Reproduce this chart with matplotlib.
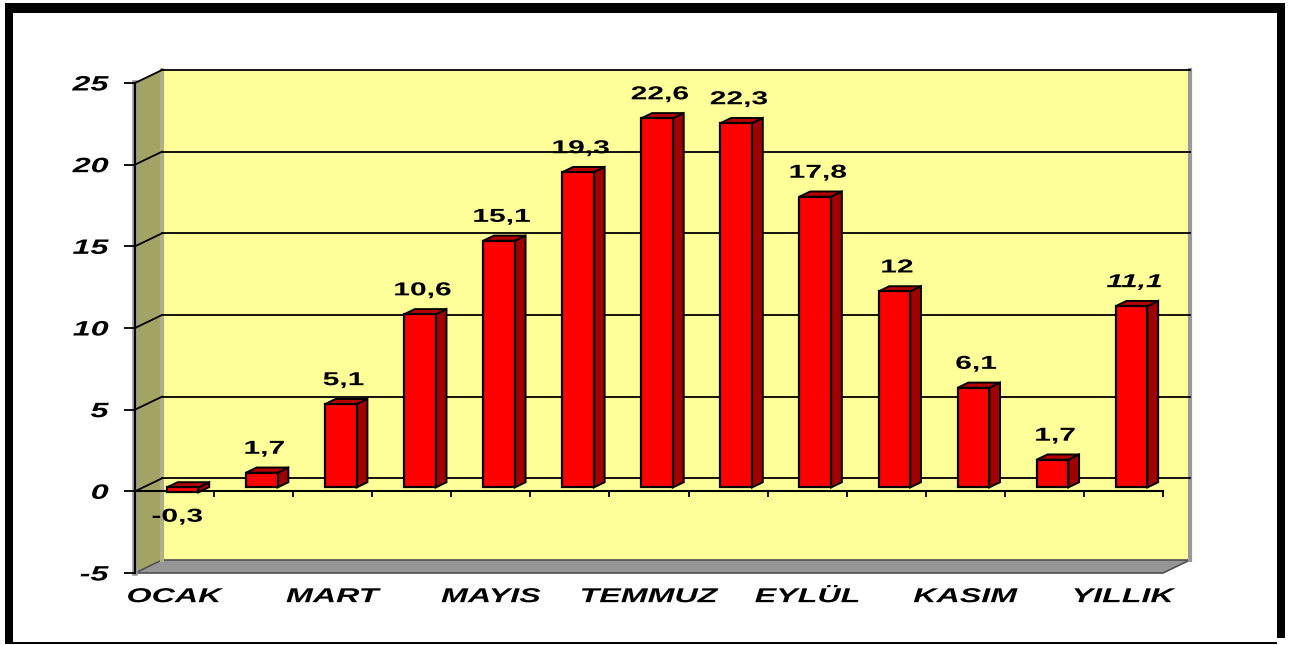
import matplotlib
matplotlib.use('Agg')
import matplotlib.pyplot as plt
import numpy as np
from matplotlib.patches import Polygon, Rectangle
from matplotlib.patheffects import AbstractPathEffect
from matplotlib.transforms import Affine2D

# data
months = ['OCAK', 'ŞUBAT', 'MART', 'NİSAN', 'MAYIS', 'HAZİRAN', 'TEMMUZ',
          'AĞUSTOS', 'EYLÜL', 'EKİM', 'KASIM', 'ARALIK', 'YILLIK']
temps = [-0.3, 0.9, 5.1, 10.6, 15.1, 19.3, 22.6, 22.3, 17.8, 12.0, 6.1, 1.7, 11.1]
temp_labels = ['-0,3', '1,7', '5,1', '10,6', '15,1', '19,3', '22,6',
               '22,3', '17,8', '12', '6,1', '1,7', '11,1']
yticks = [-5, 0, 5, 10, 15, 20, 25]

plt.rcParams['font.family'] = ['Liberation Sans', 'DejaVu Sans']


class Widen(AbstractPathEffect):
    # the picture is stretched sideways, so stretch the glyphs the same way
    def __init__(self, sx=1.6, anchor='center'):
        super().__init__((0, 0))
        self.sx = sx
        self.anchor = anchor

    def draw_path(self, renderer, gc, tpath, affine, rgbFace=None):
        ext = tpath.get_extents()
        if self.anchor == 'right':
            cx = ext.x1
        elif self.anchor == 'left':
            cx = ext.x0
        else:
            cx = (ext.x0 + ext.x1) / 2
        pre = Affine2D().translate(-cx, 0).scale(self.sx, 1).translate(cx, 0)
        renderer.draw_path(gc, tpath, pre + affine, rgbFace)


W, H = 1295, 645
fig = plt.figure(figsize=(W / 100, H / 100), dpi=100)
fig.patch.set_facecolor('white')
ax = fig.add_axes([135 / W, (H - 573) / H, 1028 / W, 490 / H])
n = len(months)
ax.set_xlim(0, n)
ax.set_ylim(-5, 25)
ax.patch.set_visible(False)

# depth of the fake 3d box, in data units
DX = 27 / (1028 / n)
DY = 13 / (490 / 30)
ylo, yhi = -5, 25

# walls and floor
side = Polygon([(0, ylo), (DX, ylo + DY), (DX, yhi + DY), (0, yhi)],
               facecolor='#A3A366', edgecolor='none', zorder=0.5, clip_on=False)
back = Rectangle((DX, ylo + DY), n, yhi - ylo, facecolor='#FFFF99',
                 edgecolor='none', zorder=0.5, clip_on=False)
floor = Polygon([(0, ylo), (n, ylo), (n + DX, ylo + DY), (DX, ylo + DY)],
                facecolor='#969696', edgecolor='#505050', lw=1.2, zorder=0.6, clip_on=False)
for p in (side, back, floor):
    ax.add_patch(p)
ax.plot([DX, DX], [ylo + DY, yhi + DY], color='#B0B088', lw=3, zorder=0.7, clip_on=False)
ax.plot([n + DX, n + DX], [ylo + DY, yhi + DY], color='#999999', lw=3, zorder=0.7, clip_on=False)
ax.plot([0, 0], [ylo, yhi], color='#999999', lw=4, zorder=0.7, clip_on=False)

# gridlines on back wall and side wall
for v in yticks[1:]:
    ax.plot([DX, n + DX], [v + DY, v + DY], color='black', lw=1.3, zorder=1, clip_on=False)
    ax.plot([0, DX], [v, v + DY], color='black', lw=1.3, zorder=1, clip_on=False)

# bars
x = np.arange(n) + 0.5
f0, fd, bw = 0.3, 0.4, 0.4
xf = x + f0 * DX
ax.bar(xf, temps, width=bw, bottom=f0 * DY, color='#FF0000',
       edgecolor='black', linewidth=1.6, zorder=3)
for xi, v in zip(xf, temps):
    lo = min(v, 0) + f0 * DY
    hi = max(v, 0) + f0 * DY
    x0, x1 = xi - bw / 2, xi + bw / 2
    ddx, ddy = fd * DX, fd * DY
    ax.add_patch(Polygon([(x1, lo), (x1, hi), (x1 + ddx, hi + ddy), (x1 + ddx, lo + ddy)],
                         facecolor='#A00000', edgecolor='black', lw=1.4, zorder=2.5, clip_on=False))
    ax.add_patch(Polygon([(x0, hi), (x1, hi), (x1 + ddx, hi + ddy), (x0 + ddx, hi + ddy)],
                         facecolor='#B80000', edgecolor='black', lw=1.4, zorder=2.5, clip_on=False))

# value labels
for i, (xi, v, s) in enumerate(zip(x, temps, temp_labels)):
    ty = v + 1.4 if v >= 0 else v - 1.56
    tx = xi + 0.4 * DX if v >= 0 else xi + 0.1 * DX
    style = 'italic' if i == n - 1 else 'normal'
    t = ax.text(tx, ty, s, ha='center', va='baseline', fontsize=13.5,
                fontweight='bold', fontstyle=style, color='black', zorder=5)
    t.set_path_effects([Widen(1.6, 'center')])

# axes
for s in ('top', 'right'):
    ax.spines[s].set_visible(False)
ax.spines['bottom'].set_position(('data', 0))
ax.spines['bottom'].set_linewidth(1.5)
ax.spines['left'].set_linewidth(1.5)
ax.spines['bottom'].set_zorder(2.8)

ax.set_yticks(yticks)
ax.set_yticklabels([str(v) for v in yticks])
ax.tick_params(axis='y', direction='out', length=8, width=1.3, pad=11)
ax.set_xticks(x[::2])
ax.set_xticklabels(months[::2])
ax.set_xticks(np.arange(1, n + 1), minor=True)
ax.tick_params(axis='x', which='major', length=0, pad=69)
ax.tick_params(axis='x', which='minor', direction='out', length=4.5, width=1.3)

for lab in ax.get_yticklabels():
    lab.set_fontsize(15)
    lab.set_fontweight('bold')
    lab.set_fontstyle('italic')
    lab.set_path_effects([Widen(1.55, 'right')])
for lab in ax.get_xticklabels():
    lab.set_fontsize(14.5)
    lab.set_fontweight('bold')
    lab.set_fontstyle('italic')
    lab.set_path_effects([Widen(1.6, 'center')])

# outer black frame
frame = [(5, 3, 1280, 10), (5, 3, 8, 640), (1277, 3, 8, 635), (5, 642, 1272, 2)]
for fx, fy, fw, fh in frame:
    fig.patches.append(Rectangle((fx / W, 1 - (fy + fh) / H), fw / W, fh / H,
                                 transform=fig.transFigure, facecolor='black',
                                 edgecolor='none', zorder=10))

fig.savefig('out.png', dpi=100)
